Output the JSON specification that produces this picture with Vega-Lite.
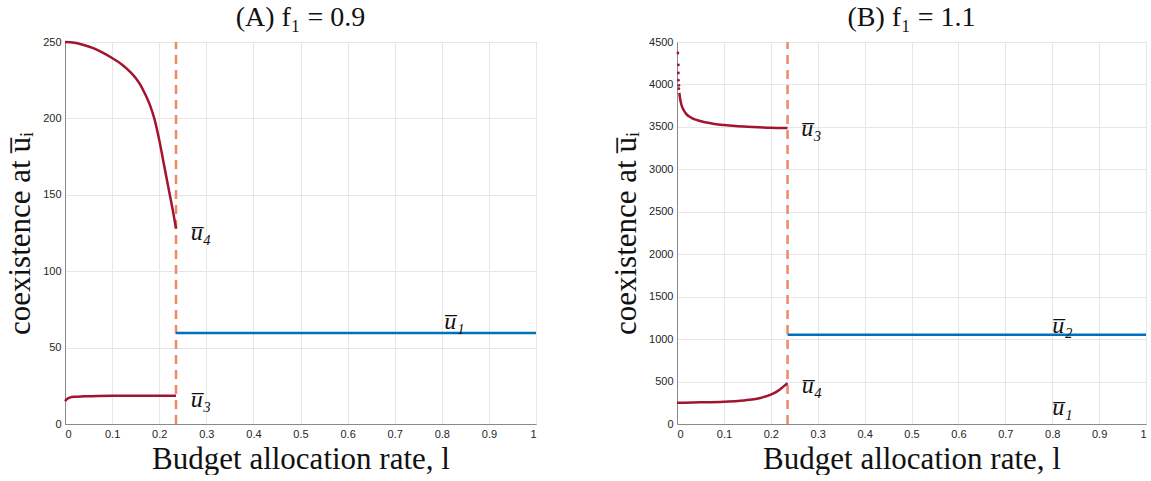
{
  "$schema": "https://vega.github.io/schema/vega-lite/v6.json",
  "padding": {"left": 4, "top": 3, "right": 0, "bottom": 0},
  "spacing": 68,
  "background": "white",
  "config": {
    "view": {"stroke": "#7a7a7a", "strokeWidth": 1},
    "axis": {
      "domainColor": "#8a8a8a",
      "gridColor": "#e6e6e6",
      "ticks": false,
      "labelFont": "Liberation Sans",
      "labelFontSize": 11,
      "labelColor": "#262626",
      "labelPadding": 4,
      "titleFont": "Liberation Serif",
      "titleFontSize": 31,
      "titleFontWeight": "normal",
      "titleColor": "#111111"
    },
    "axisX": {"titlePadding": 5},
    "axisY": {"titlePadding": 6},
    "title": {"font": "Liberation Serif", "fontSize": 28, "fontWeight": "normal", "color": "#111111", "offset": 4}
  },
  "datasets": {
    "A": [
      {"l": 0, "v": 250, "s": "u4"}, {"l": 0.02, "v": 249.5, "s": "u4"}, {"l": 0.04, "v": 248, "s": "u4"},
      {"l": 0.06, "v": 246, "s": "u4"}, {"l": 0.08, "v": 243, "s": "u4"}, {"l": 0.1, "v": 239.5, "s": "u4"},
      {"l": 0.12, "v": 235.5, "s": "u4"}, {"l": 0.14, "v": 230, "s": "u4"}, {"l": 0.15, "v": 226.5, "s": "u4"},
      {"l": 0.16, "v": 222, "s": "u4"}, {"l": 0.17, "v": 216, "s": "u4"}, {"l": 0.18, "v": 209, "s": "u4"},
      {"l": 0.19, "v": 199.5, "s": "u4"}, {"l": 0.2, "v": 186, "s": "u4"}, {"l": 0.21, "v": 170, "s": "u4"},
      {"l": 0.22, "v": 154, "s": "u4"}, {"l": 0.23, "v": 138, "s": "u4"}, {"l": 0.2357, "v": 128, "s": "u4"},
      {"l": 0, "v": 15, "s": "u3"}, {"l": 0.005, "v": 16.5, "s": "u3"}, {"l": 0.01, "v": 17.3, "s": "u3"},
      {"l": 0.02, "v": 17.8, "s": "u3"}, {"l": 0.04, "v": 18.1, "s": "u3"}, {"l": 0.07, "v": 18.4, "s": "u3"},
      {"l": 0.1, "v": 18.5, "s": "u3"}, {"l": 0.15, "v": 18.5, "s": "u3"}, {"l": 0.2, "v": 18.5, "s": "u3"},
      {"l": 0.2357, "v": 18.5, "s": "u3"},
      {"l": 0.2357, "v": 59.5, "s": "u1"}, {"l": 1, "v": 59.5, "s": "u1"}
    ],
    "Arule": [{"l": 0.2357, "v": 0, "v2": 250}],
    "Alab": [
      {"l": 0.267, "v": 125, "t": "u̅₄"},
      {"l": 0.267, "v": 16, "t": "u̅₃"},
      {"l": 0.805, "v": 67, "t": "u̅₁"}
    ],
    "B": [
      {"l": 0.005, "v": 3900, "s": "u3"}, {"l": 0.007, "v": 3820, "s": "u3"}, {"l": 0.01, "v": 3750, "s": "u3"},
      {"l": 0.015, "v": 3690, "s": "u3"}, {"l": 0.02, "v": 3650, "s": "u3"}, {"l": 0.03, "v": 3610, "s": "u3"},
      {"l": 0.04, "v": 3585, "s": "u3"}, {"l": 0.06, "v": 3555, "s": "u3"}, {"l": 0.08, "v": 3535, "s": "u3"},
      {"l": 0.1, "v": 3522, "s": "u3"}, {"l": 0.125, "v": 3510, "s": "u3"}, {"l": 0.15, "v": 3502, "s": "u3"},
      {"l": 0.175, "v": 3496, "s": "u3"}, {"l": 0.2, "v": 3490, "s": "u3"}, {"l": 0.2357, "v": 3487, "s": "u3"},
      {"l": 0, "v": 250, "s": "u4"}, {"l": 0.05, "v": 255, "s": "u4"}, {"l": 0.1, "v": 263, "s": "u4"},
      {"l": 0.13, "v": 272, "s": "u4"}, {"l": 0.16, "v": 288, "s": "u4"}, {"l": 0.18, "v": 310, "s": "u4"},
      {"l": 0.2, "v": 345, "s": "u4"}, {"l": 0.21, "v": 372, "s": "u4"}, {"l": 0.22, "v": 410, "s": "u4"},
      {"l": 0.23, "v": 455, "s": "u4"}, {"l": 0.2357, "v": 482, "s": "u4"},
      {"l": 0.2357, "v": 1050, "s": "u2"}, {"l": 1, "v": 1050, "s": "u2"}
    ],
    "Bdots": [
      {"l": 0.002, "v": 4370}, {"l": 0.003, "v": 4230}, {"l": 0.003, "v": 4135},
      {"l": 0.003, "v": 4050}, {"l": 0.004, "v": 3990}, {"l": 0.004, "v": 3950}
    ],
    "Brule": [{"l": 0.2357, "v": 0, "v2": 4500}],
    "Blab": [
      {"l": 0.265, "v": 3470, "t": "u̅₃"},
      {"l": 0.266, "v": 450, "t": "u̅₄"},
      {"l": 0.8, "v": 1160, "t": "u̅₂"},
      {"l": 0.8, "v": 190, "t": "u̅₁"}
    ]
  },
  "hconcat": [
    {
      "width": 471,
      "height": 382,
      "title": {"text": "(A)  f₁ = 0.9"},
      "encoding": {
        "x": {"field": "l", "type": "quantitative", "scale": {"domain": [0, 1], "nice": false, "zero": false},
              "axis": {"values": [0, 0.1, 0.2, 0.3, 0.4, 0.5, 0.6, 0.7, 0.8, 0.9, 1], "format": "~g", "title": "Budget allocation rate, l"}},
        "y": {"field": "v", "type": "quantitative", "scale": {"domain": [0, 250], "nice": false},
              "axis": {"values": [0, 50, 100, 150, 200, 250], "format": "d", "title": "coexistence at u̅ᵢ"}}
      },
      "layer": [
        {"data": {"name": "Arule"}, "mark": {"type": "rule", "color": "#EE8A5F", "strokeWidth": 2.5, "strokeDash": [9, 6]},
         "encoding": {"y2": {"field": "v2"}}},
        {"data": {"name": "A"}, "mark": {"type": "line", "strokeWidth": 2.5, "interpolate": "monotone"},
         "encoding": {"detail": {"field": "s"}, "color": {"field": "s", "type": "nominal", "legend": null,
           "scale": {"domain": ["u4", "u3", "u1", "u2"], "range": ["#A2142F", "#A2142F", "#0072BD", "#0072BD"]}}}},
        {"data": {"name": "Alab"}, "mark": {"type": "text", "align": "left", "baseline": "middle", "font": "Liberation Serif", "fontStyle": "italic", "fontSize": 24, "color": "#111111"},
         "encoding": {"text": {"field": "t"}}}
      ]
    },
    {
      "width": 469,
      "height": 382,
      "title": {"text": "(B)  f₁ = 1.1"},
      "encoding": {
        "x": {"field": "l", "type": "quantitative", "scale": {"domain": [0, 1], "nice": false, "zero": false},
              "axis": {"values": [0, 0.1, 0.2, 0.3, 0.4, 0.5, 0.6, 0.7, 0.8, 0.9, 1], "format": "~g", "title": "Budget allocation rate, l"}},
        "y": {"field": "v", "type": "quantitative", "scale": {"domain": [0, 4500], "nice": false},
              "axis": {"values": [0, 500, 1000, 1500, 2000, 2500, 3000, 3500, 4000, 4500], "format": "d", "title": "coexistence at u̅ᵢ"}}
      },
      "layer": [
        {"data": {"name": "Brule"}, "mark": {"type": "rule", "color": "#EE8A5F", "strokeWidth": 2.5, "strokeDash": [9, 6]},
         "encoding": {"y2": {"field": "v2"}}},
        {"data": {"name": "B"}, "mark": {"type": "line", "strokeWidth": 2.5, "interpolate": "monotone"},
         "encoding": {"detail": {"field": "s"}, "color": {"field": "s", "type": "nominal", "legend": null,
           "scale": {"domain": ["u4", "u3", "u1", "u2"], "range": ["#A2142F", "#A2142F", "#0072BD", "#0072BD"]}}}},
        {"data": {"name": "Bdots"}, "mark": {"type": "point", "filled": true, "size": 8, "color": "#A2142F", "opacity": 1}},
        {"data": {"name": "Blab"}, "mark": {"type": "text", "align": "left", "baseline": "middle", "font": "Liberation Serif", "fontStyle": "italic", "fontSize": 24, "color": "#111111"},
         "encoding": {"text": {"field": "t"}}}
      ]
    }
  ]
}
